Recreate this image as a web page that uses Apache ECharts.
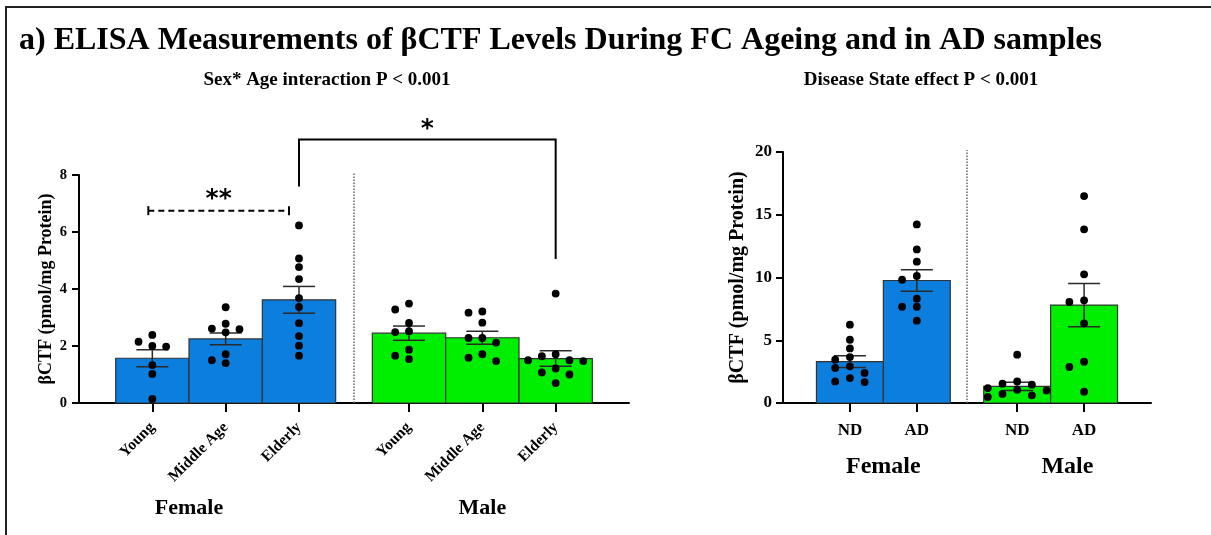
<!DOCTYPE html>
<html>
<head>
<meta charset="utf-8">
<script src="https://cdn.jsdelivr.net/npm/echarts@6/dist/echarts.min.js"></script>
<style>
  html, body { margin: 0; padding: 0; background: #fff; }
  #chart { width: 1211px; height: 535px; }
</style>
</head>
<body>
<div id="chart"></div>
<script>
// ---- Ageing study (pmol/mg protein) ----
const sexes = ['Female', 'Male'];
const ageGroups = ['Young', 'Middle Age', 'Elderly'];
const ageFemaleMean = [1.57, 2.25, 3.62];
const ageFemaleSem = [0.30, 0.21, 0.47];
const ageMaleMean = [2.45, 2.29, 1.56];
const ageMaleSem = [0.25, 0.23, 0.27];
const ageFemalePoints = [
  [2.39, 2.15, 2.00, 1.98, 1.33, 1.02, 0.14],
  [3.36, 2.78, 2.61, 2.59, 2.48, 1.71, 1.50, 1.40],
  [6.23, 5.07, 4.77, 4.35, 3.68, 3.37, 2.80, 2.35, 2.01, 1.66]
];
const ageMalePoints = [
  [3.49, 3.28, 2.81, 2.52, 2.49, 1.87, 1.66, 1.54],
  [3.21, 3.17, 2.82, 2.28, 2.28, 2.12, 1.71, 1.59, 1.47],
  [3.84, 1.71, 1.64, 1.50, 1.50, 1.47, 1.21, 1.07, 1.00, 0.70]
];
const ageTicks = [0, 2, 4, 6, 8];

// ---- Disease study (pmol/mg protein) ----
const diseaseGroups = ['ND', 'AD'];
const diseaseFemaleMean = [3.29, 9.76];
const diseaseFemaleSem = [0.47, 0.85];
const diseaseMaleMean = [1.32, 7.80];
const diseaseMaleSem = [0.33, 1.72];
const diseaseFemalePoints = [
  [6.24, 5.04, 4.35, 3.66, 3.45, 2.92, 2.79, 2.39, 1.99, 1.72, 1.67],
  [14.23, 12.24, 11.26, 10.12, 9.82, 8.31, 7.67, 7.67, 6.56]
];
const diseaseMalePoints = [
  [3.85, 1.72, 1.54, 1.46, 1.19, 1.06, 1.00, 0.72, 0.61, 0.48],
  [16.49, 13.84, 10.25, 8.18, 8.05, 6.35, 3.29, 2.87, 0.90]
];
const diseaseTicks = [0, 5, 10, 15, 20];

// ---- Pairwise comparisons on the ageing panel ----
const ageComparisons = [
  { from: ['Female', 'Young'], to: ['Female', 'Elderly'], level: 6.75, mark: '**', dashed: true },
  { from: ['Female', 'Elderly'], to: ['Male', 'Elderly'], level: 9.25, mark: '*', legs: [7.6, 5.05] }
];

const titleText = 'a) ELISA Measurements of βCTF Levels During FC Ageing and in AD samples';
const ageSubtitle = 'Sex* Age interaction P < 0.001';
const diseaseSubtitle = 'Disease State effect P < 0.001';
const yName = 'βCTF (pmol/mg Protein)';

// ---- styling ----
const FONT = '"Liberation Serif", "Times New Roman", serif';
const SEX_COLORS = ['#0B7EDE', '#00EE00'];
const INK = '#000';

// x position of a group: groups of one sex are adjacent, sexes separated by half a slot
function slot(sexIdx, i, n) { return 1 + i + sexIdx * (n + 0.5); }

// spread points of one group sideways so dots do not overlap (simple beeswarm)
function swarm(values, pyOf, minGap) {
  const order = values.map((v, i) => i).sort((a, b) => values[b] - values[a]);
  const placed = [];
  const lanes = new Array(values.length).fill(0);
  const candidates = [0, -1, 1, -2, 2, -3, 3];
  order.forEach(i => {
    const y = pyOf(values[i]);
    for (const c of candidates) {
      if (!placed.some(p => p.lane === c && Math.abs(p.y - y) < minGap)) {
        lanes[i] = c; placed.push({ lane: c, y }); break;
      }
    }
  });
  return lanes;
}

function buildPanel(idx, groups, means, sems, points, ticks, opts) {
  const n = groups.length;
  const positions = [];
  const labelOf = {};
  const barData = [];
  const dotData = [];
  const groupValues = [];
  sexes.forEach((sex, s) => {
    groups.forEach((g, i) => {
      const x = slot(s, i, n);
      positions.push(x);
      labelOf[x] = g;
      barData.push([x, means[s][i], sems[s][i], s]);
      const gk = groupValues.length;
      groupValues.push(points[s][i]);
      points[s][i].forEach((v, k) => dotData.push([x, v, gk, k]));
    });
  });
  const xMax = 2 * n + 1.5;
  const yMax = ticks[ticks.length - 1];

  const xAxis = {
    gridIndex: idx, type: 'value', min: 0, max: xMax,
    splitLine: { show: false },
    axisLine: { show: true, onZero: false, lineStyle: { color: INK, width: 2 } },
    axisTick: { show: true, customValues: positions, length: opts.xTickLen, lineStyle: { color: INK, width: 2 } },
    axisLabel: {
      show: true, customValues: positions, formatter: v => labelOf[v] || '',
      rotate: opts.xRotate, margin: opts.xLabelMargin,
      fontFamily: FONT, fontWeight: 'bold', fontSize: opts.xLabelSize, color: INK
    }
  };
  const yAxis = {
    gridIndex: idx, type: 'value', min: ticks[0], max: yMax, interval: ticks[1] - ticks[0],
    splitLine: { show: false },
    axisLine: { show: true, lineStyle: { color: INK, width: 2 } },
    axisTick: { show: true, length: 7, lineStyle: { color: INK, width: 2 } },
    axisLabel: { margin: opts.yLabelMargin, fontFamily: FONT, fontWeight: 'bold', fontSize: opts.yLabelSize, color: INK },
    name: yName, nameLocation: 'middle', nameRotate: 90, nameGap: opts.nameGap, nameMoveOverlap: false,
    nameTextStyle: { fontFamily: FONT, fontWeight: 'bold', fontSize: opts.nameSize, color: INK }
  };

  const bars = {
    type: 'custom', xAxisIndex: idx, yAxisIndex: idx, z: 2, clip: false,
    data: barData,
    renderItem: (params, api) => {
      const x = api.value(0), m = api.value(1), e = api.value(2), s = api.value(3);
      const tl = api.coord([x - 0.5, m]);
      const br = api.coord([x + 0.5, 0]);
      const top = api.coord([x, m + e]);
      const bot = api.coord([x, m - e]);
      const cap = opts.cap;
      const ls = { stroke: '#2a2a2a', lineWidth: 1.5 };
      return {
        type: 'group', children: [
          { type: 'rect', shape: { x: tl[0], y: tl[1], width: br[0] - tl[0], height: br[1] - tl[1] },
            style: { fill: SEX_COLORS[s], stroke: '#333', lineWidth: 1.2 } },
          { type: 'line', shape: { x1: top[0], y1: top[1], x2: bot[0], y2: bot[1] }, style: ls },
          { type: 'line', shape: { x1: top[0] - cap, y1: top[1], x2: top[0] + cap, y2: top[1] }, style: ls },
          { type: 'line', shape: { x1: bot[0] - cap, y1: bot[1], x2: bot[0] + cap, y2: bot[1] }, style: ls }
        ]
      };
    }
  };

  let lanes = null;
  const dots = {
    type: 'custom', xAxisIndex: idx, yAxisIndex: idx, z: 4, clip: false,
    data: dotData,
    renderItem: (params, api) => {
      if (!lanes) lanes = groupValues.map(vals => swarm(vals, v => api.coord([0, v])[1], 8));
      const p = api.coord([api.value(0), api.value(1)]);
      const lane = lanes[api.value(2)][api.value(3)];
      return { type: 'circle', shape: { cx: p[0] + lane * opts.laneStep, cy: p[1], r: 3.9 }, style: { fill: INK } };
    }
  };

  const separator = {
    type: 'custom', xAxisIndex: idx, yAxisIndex: idx, z: 1, clip: false,
    data: [[n + 0.75, yMax]],
    renderItem: (params, api) => {
      const a = api.coord([api.value(0), 0]);
      const b = api.coord([api.value(0), api.value(1)]);
      return { type: 'line', shape: { x1: a[0], y1: a[1], x2: b[0], y2: b[1] - 2 },
        style: { stroke: '#666', lineWidth: 1.5, lineDash: [1.5, 1.5] } };
    }
  };

  // sex names under the group labels
  const sexLabels = {
    type: 'custom', xAxisIndex: idx, yAxisIndex: idx, z: 5, clip: false,
    data: sexes.map((s, k) => [slot(k, 0, n) + opts.sexLabelShift[k], 0, k]),
    renderItem: (params, api) => {
      const p = api.coord([api.value(0), api.value(1)]);
      return { type: 'text', x: p[0], y: p[1] + opts.sexLabelDrop,
        style: { text: sexes[api.value(2)], fontFamily: FONT, fontWeight: 'bold', fontSize: opts.sexLabelSize,
          fill: INK, align: 'center', verticalAlign: 'middle' } };
    }
  };

  return { xAxis, yAxis, series: [separator, bars, dots, sexLabels], positions };
}

const agePanel = buildPanel(0, ageGroups,
  [ageFemaleMean, ageMaleMean], [ageFemaleSem, ageMaleSem], [ageFemalePoints, ageMalePoints], ageTicks,
  { xTickLen: 9, xRotate: 45, xLabelMargin: 22, xLabelSize: 15.5, yLabelMargin: 12, yLabelSize: 14.5,
    nameGap: 24, nameSize: 18, cap: 16, laneStep: 13.8, sexLabelShift: [0.5, 1], sexLabelDrop: 105, sexLabelSize: 22 });

const diseasePanel = buildPanel(1, diseaseGroups,
  [diseaseFemaleMean, diseaseMaleMean], [diseaseFemaleSem, diseaseMaleSem], [diseaseFemalePoints, diseaseMalePoints], diseaseTicks,
  { xTickLen: 9, xRotate: 0, xLabelMargin: 19, xLabelSize: 17, yLabelMargin: 11, yLabelSize: 17,
    nameGap: 35, nameSize: 20, cap: 16, laneStep: 14.7, sexLabelShift: [0.5, 0.75], sexLabelDrop: 64, sexLabelSize: 24 });

// significance brackets (drawn outside the plotting area where needed)
const ageSlot = (sex, group) => slot(sexes.indexOf(sex), ageGroups.indexOf(group), ageGroups.length);
const brackets = {
  type: 'custom', xAxisIndex: 0, yAxisIndex: 0, z: 6, clip: false,
  data: ageComparisons.map((c, k) => [ageSlot(...c.from), ageSlot(...c.to), c.level, k]),
  renderItem: (params, api) => {
    const c = ageComparisons[api.value(3)];
    const a = api.coord([api.value(0), api.value(2)]);
    const b = api.coord([api.value(1), api.value(2)]);
    const line = { stroke: INK, lineWidth: 2 };
    const markStyle = { text: c.mark, fontFamily: 'DejaVu Sans', fontWeight: 'bold', fontSize: 25, fill: INK, align: 'center', verticalAlign: 'middle' };
    const children = [];
    if (c.dashed) {
      const x1 = a[0] - 4, x2 = b[0] - 10;
      children.push({ type: 'line', shape: { x1, y1: a[1], x2, y2: b[1] }, style: Object.assign({ lineDash: [6, 4] }, line) });
      children.push({ type: 'line', shape: { x1, y1: a[1] - 4.5, x2: x1, y2: a[1] + 4.5 }, style: line });
      children.push({ type: 'line', shape: { x1: x2, y1: b[1] - 4.5, x2, y2: b[1] + 4.5 }, style: line });
      children.push({ type: 'text', x: (x1 + x2) / 2, y: a[1] - 11, style: markStyle });
    } else {
      const la = api.coord([api.value(0), c.legs[0]]);
      const lb = api.coord([api.value(1), c.legs[1]]);
      children.push({ type: 'polyline', shape: { points: [[la[0], la[1]], [a[0], a[1]], [b[0], b[1]], [lb[0], lb[1]]] }, style: Object.assign({ fill: null }, line) });
      children.push({ type: 'text', x: (a[0] + b[0]) / 2, y: a[1] - 10, style: markStyle });
    }
    return { type: 'group', children };
  }
};

const chart = echarts.init(document.getElementById('chart'), null, { renderer: 'canvas' });
chart.setOption({
  animation: false,
  backgroundColor: '#fff',
  grid: [
    { left: 79, top: 175, width: 550, height: 228, containLabel: false, outerBoundsMode: 'none' },
    { left: 783, top: 152, width: 368, height: 251, containLabel: false, outerBoundsMode: 'none' }
  ],
  xAxis: [agePanel.xAxis, diseasePanel.xAxis],
  yAxis: [agePanel.yAxis, diseasePanel.yAxis],
  series: [...agePanel.series, brackets, ...diseasePanel.series],
  graphic: [
    { type: 'line', shape: { x1: 5, y1: 7, x2: 1211, y2: 7 }, style: { stroke: '#222', lineWidth: 2 } },
    { type: 'line', shape: { x1: 6, y1: 7, x2: 6, y2: 535 }, style: { stroke: '#222', lineWidth: 2 } },
    { type: 'text', x: 19, y: 41, style: { text: titleText, fontFamily: FONT, fontWeight: 'bold', fontSize: 32, fill: INK, align: 'left', verticalAlign: 'middle' } },
    { type: 'text', x: 327, y: 80, style: { text: ageSubtitle, fontFamily: FONT, fontWeight: 'bold', fontSize: 19, fill: INK, align: 'center', verticalAlign: 'middle' } },
    { type: 'text', x: 921, y: 80, style: { text: diseaseSubtitle, fontFamily: FONT, fontWeight: 'bold', fontSize: 19, fill: INK, align: 'center', verticalAlign: 'middle' } }
  ]
});
</script>
</body>
</html>
